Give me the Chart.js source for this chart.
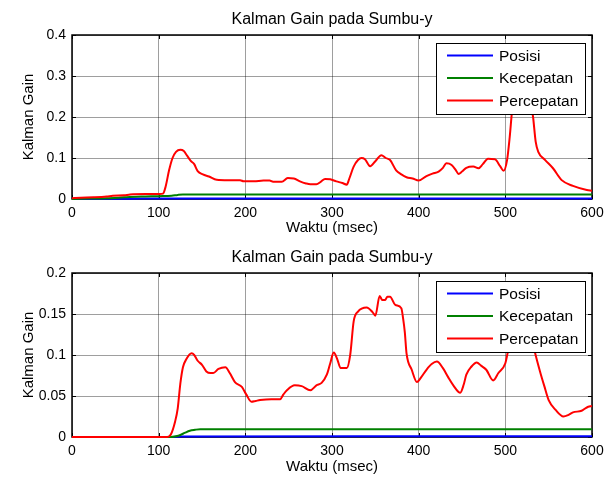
<!DOCTYPE html>
<html><head><meta charset="utf-8">
<script src="https://cdn.jsdelivr.net/npm/chart.js@4.4.1/dist/chart.umd.min.js"></script>
<style>
html,body{margin:0;padding:0;background:#fff;width:616px;height:483px;overflow:hidden}
canvas{display:block}
</style></head><body>
<canvas id="c1" width="616" height="241"></canvas>
<canvas id="c2" width="616" height="242"></canvas>
<script>
const seriesLabels = ['Posisi', 'Kecepatan', 'Percepatan'];
const seriesColors = ['#0000ff', '#008000', '#ff0000'];
const chartTitle = 'Kalman Gain pada Sumbu-y';
const xAxisTitle = 'Waktu (msec)';
const yAxisTitle = 'Kalman Gain';
const xTicks = [0, 100, 200, 300, 400, 500, 600];
const topYTicks = [0, 0.1, 0.2, 0.3, 0.4];
const bottomYTicks = [0, 0.05, 0.1, 0.15, 0.2];

// ---- top panel ----
const topPosisiT = [0, 60, 80, 600];
const topPosisiV = [0, 0.0006, 0.0012, 0.0014];
const topKecepatanT = [0, 20, 40, 60, 80, 100, 115, 122, 128, 600];
const topKecepatanV = [0, 0.001, 0.002, 0.004, 0.006, 0.007, 0.008, 0.010, 0.011, 0.011];
const topPercepatanT = [0, 10, 25, 40, 47, 60, 67, 85, 101, 105, 108, 112, 116, 120, 125, 129, 133, 137, 141, 145, 151, 158, 167, 180, 194, 198, 210, 221, 228, 232, 242, 249, 256, 263, 270, 275, 282, 287, 292, 298, 305, 312, 317, 320, 325, 330, 334, 338, 344, 350, 357, 362, 367, 374, 380, 386, 393, 400, 409, 416, 423, 428, 432, 438, 443, 446, 450, 455, 463, 469, 474, 480, 488, 494, 498, 502, 505, 508, 512, 518, 524, 529, 532, 535, 538, 546, 555, 565, 578, 594, 600];
const topPercepatanV = [0.002, 0.003, 0.004, 0.006, 0.008, 0.009, 0.011, 0.012, 0.012, 0.013, 0.03, 0.07, 0.10, 0.115, 0.12, 0.117, 0.105, 0.093, 0.085, 0.068, 0.06, 0.055, 0.047, 0.046, 0.046, 0.043, 0.043, 0.045, 0.045, 0.042, 0.042, 0.051, 0.05, 0.043, 0.038, 0.036, 0.036, 0.042, 0.049, 0.048, 0.043, 0.039, 0.035, 0.05, 0.079, 0.095, 0.10, 0.097, 0.08, 0.092, 0.107, 0.10, 0.095, 0.07, 0.06, 0.053, 0.05, 0.045, 0.056, 0.062, 0.067, 0.076, 0.087, 0.083, 0.07, 0.061, 0.067, 0.076, 0.079, 0.075, 0.085, 0.098, 0.097, 0.08, 0.069, 0.095, 0.15, 0.22, 0.27, 0.30, 0.29, 0.24, 0.20, 0.14, 0.115, 0.095, 0.075, 0.046, 0.032, 0.022, 0.02];

// ---- bottom panel ----
const botPosisiT = [0, 115, 125, 600];
const botPosisiV = [0, 0, 0.0007, 0.0008];
const botKecepatanT = [0, 113, 120, 125, 130, 136, 142, 148, 600];
const botKecepatanV = [0, 0, 0.001, 0.0025, 0.005, 0.0077, 0.0088, 0.0095, 0.0095];
const botPercepatanT = [0, 110, 114, 119, 122, 125, 128, 132, 138, 141, 145, 150, 155, 160, 163, 169, 177, 182, 188, 196, 201, 207, 212, 217, 230, 240, 244, 248, 257, 265, 275, 282, 288, 294, 298, 302, 306, 310, 317, 321, 325, 330, 340, 347, 350, 355, 358, 361, 364, 367, 373, 380, 382, 384, 386, 392, 398, 403, 409, 415, 421, 428, 434, 440, 448, 452, 455, 461, 467, 472, 478, 486, 492, 500, 503, 508, 514, 520, 526, 531, 534, 540, 545, 550, 558, 567, 573, 578, 588, 594, 600];
const botPercepatanV = [0, 0, 0.003, 0.019, 0.035, 0.065, 0.085, 0.095, 0.102, 0.10, 0.093, 0.088, 0.08, 0.078, 0.078, 0.083, 0.085, 0.078, 0.067, 0.061, 0.052, 0.043, 0.044, 0.045, 0.046, 0.046, 0.052, 0.057, 0.063, 0.062, 0.057, 0.063, 0.066, 0.076, 0.09, 0.103, 0.095, 0.084, 0.084, 0.10, 0.141, 0.153, 0.158, 0.152, 0.148, 0.172, 0.167, 0.167, 0.171, 0.171, 0.161, 0.157, 0.145, 0.128, 0.102, 0.082, 0.067, 0.073, 0.082, 0.089, 0.092, 0.084, 0.073, 0.063, 0.054, 0.064, 0.076, 0.086, 0.091, 0.087, 0.082, 0.069, 0.078, 0.09, 0.104, 0.12, 0.135, 0.14, 0.135, 0.118, 0.104, 0.08, 0.062, 0.045, 0.033, 0.025, 0.027, 0.03, 0.032, 0.036, 0.038];

const FONT = "'Liberation Sans', Arial, sans-serif";
Chart.defaults.color = '#000';
Chart.defaults.font.family = FONT;

function pts(t, v) { return t.map((x, i) => ({x: x, y: v[i]})); }

const framePlugin = {
  id: 'frame',
  beforeDatasetsDraw(chart) {
    const {ctx, chartArea: a, scales: {x, y}} = chart;
    ctx.save();
    ctx.strokeStyle = '#000';
    ctx.lineWidth = 1;
    ctx.beginPath();
    x.ticks.forEach(t => {
      const px = Math.round(x.getPixelForValue(t.value)) + 0.5;
      ctx.moveTo(px, a.top); ctx.lineTo(px, a.top + 4);
      ctx.moveTo(px, a.bottom); ctx.lineTo(px, a.bottom - 4);
    });
    y.ticks.forEach(t => {
      const py = Math.round(y.getPixelForValue(t.value)) + 0.5;
      ctx.moveTo(a.left, py); ctx.lineTo(a.left + 4, py);
      ctx.moveTo(a.right, py); ctx.lineTo(a.right - 4, py);
    });
    ctx.stroke();
    ctx.lineWidth = 1.5;
    ctx.strokeRect(a.left, a.top, a.right - a.left, a.bottom - a.top);
    ctx.restore();
  },
  afterDraw(chart) {
    const {ctx, chartArea: a} = chart;
    ctx.save();
    ctx.fillStyle = '#000';
    ctx.font = '16px ' + FONT;
    ctx.textAlign = 'center';
    ctx.textBaseline = 'alphabetic';
    ctx.fillText(chartTitle, (a.left + a.right) / 2, a.top - 11);
    const bw = 149, bh = 71;
    const bx = a.right - 7 - bw, by = a.top + 8;
    ctx.fillStyle = '#fff';
    ctx.fillRect(bx, by, bw, bh);
    ctx.lineWidth = 1;
    ctx.strokeStyle = '#000';
    ctx.strokeRect(Math.round(bx) + 0.5, Math.round(by) + 0.5, bw, bh);
    ctx.font = '15.5px ' + FONT;
    ctx.textAlign = 'left';
    ctx.textBaseline = 'middle';
    chart.data.datasets.forEach((ds, i) => {
      const ry = by + 12.5 + i * 22.5;
      ctx.strokeStyle = ds.borderColor;
      ctx.lineWidth = 2;
      ctx.beginPath();
      ctx.moveTo(bx + 11, ry); ctx.lineTo(bx + 57, ry);
      ctx.stroke();
      ctx.fillStyle = '#000';
      ctx.fillText(ds.label, bx + 63, ry + 1);
    });
    ctx.restore();
  }
};

function makeChart(id, series, yMax, yTicksList, padTop, xHeight, xTitlePad) {
  const datasets = series.map((s, i) => ({
    label: seriesLabels[i],
    data: pts(s[0], s[1]),
    borderColor: seriesColors[i],
    backgroundColor: seriesColors[i],
    borderWidth: 2,
    pointRadius: 0,
    cubicInterpolationMode: 'monotone',
    fill: false,
    clip: {left: 0, top: 0, right: 0, bottom: 2},
    order: 2 - i
  }));
  return new Chart(document.getElementById(id), {
    type: 'line',
    data: {datasets},
    options: {
      responsive: false,
      animation: false,
      events: [],
      layout: {padding: {top: padTop, right: 24, left: 0, bottom: 0}},
      plugins: {legend: {display: false}, title: {display: false}, tooltip: {enabled: false}},
      scales: {
        x: {
          type: 'linear', min: 0, max: 600,
          afterBuildTicks: sc => { sc.ticks = xTicks.map(v => ({value: v})); },
          afterFit: sc => { sc.height = xHeight; },
          ticks: {font: {size: 14}, padding: 6, color: '#000', maxRotation: 0},
          grid: {color: 'rgba(0,0,0,0.38)', lineWidth: 1, drawTicks: false},
          border: {display: false},
          title: {display: true, text: xAxisTitle, font: {size: 15}, color: '#000', padding: {top: 0, bottom: xTitlePad}}
        },
        y: {
          type: 'linear', min: 0, max: yMax,
          afterBuildTicks: sc => { sc.ticks = yTicksList.map(v => ({value: v})); },
          afterFit: sc => { sc.width = 72; },
          ticks: {font: {size: 14}, padding: 6, color: '#000', callback: v => String(v)},
          grid: {color: 'rgba(0,0,0,0.38)', lineWidth: 1, drawTicks: false},
          border: {display: false},
          title: {display: true, text: yAxisTitle, font: {size: 15}, color: '#000', padding: {top: 20, bottom: 0}}
        }
      }
    },
    plugins: [framePlugin]
  });
}

makeChart('c1', [[topPosisiT, topPosisiV], [topKecepatanT, topKecepatanV], [topPercepatanT, topPercepatanV]], 0.4, topYTicks, 35, 42, 4);
makeChart('c2', [[botPosisiT, botPosisiV], [botKecepatanT, botKecepatanV], [botPercepatanT, botPercepatanV]], 0.2, bottomYTicks, 32, 46, 7);
</script>
</body></html>
